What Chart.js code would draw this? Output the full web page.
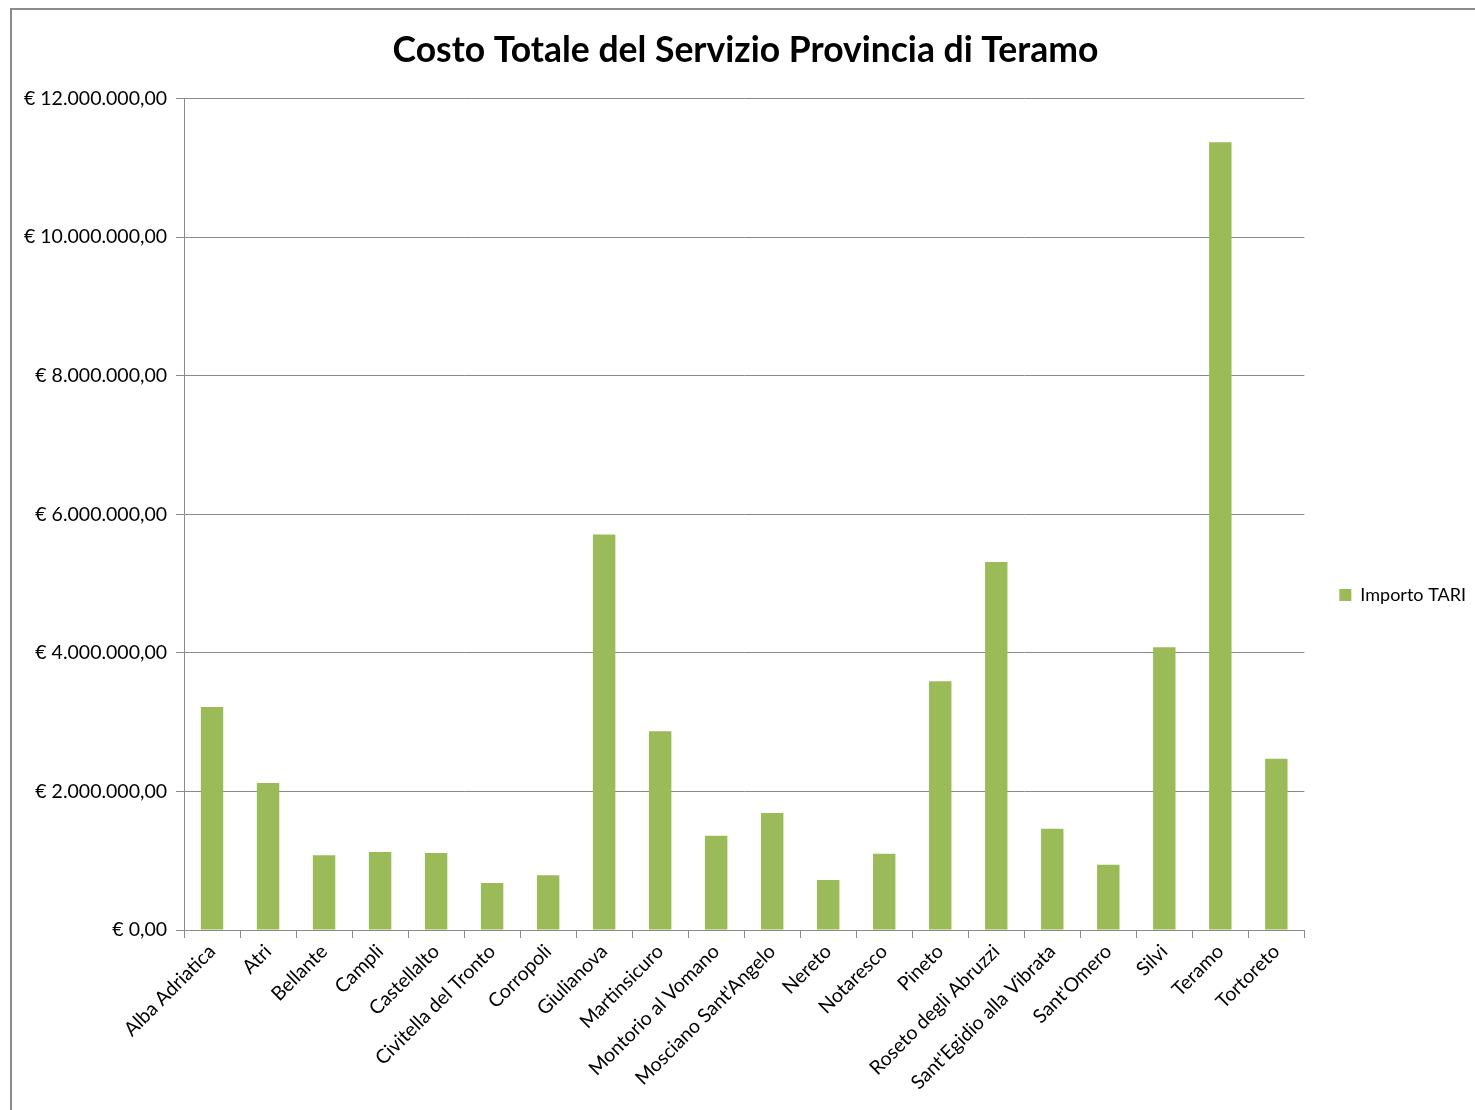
<!DOCTYPE html>
<html>
<head>
<meta charset="utf-8">
<script src="https://cdn.jsdelivr.net/npm/chart.js@4.4.1/dist/chart.umd.min.js"></script>
<style>
  html, body { margin: 0; padding: 0; background: #fff; overflow: hidden; }
  #frame {
    position: absolute; left: 10px; top: 8px;
    width: 1490px; height: 1170px;
    border-left: 2px solid #8c8c8c; border-top: 2px solid #8c8c8c;
  }
  #frame canvas { position: absolute; left: 0; top: 0; }
</style>
</head>
<body>
<div id="frame"><canvas id="chart" width="1464" height="1170"></canvas></div>
<script>
/* ---- Data ---- */
const comuni = [
  'Alba Adriatica', 'Atri', 'Bellante', 'Campli', 'Castellalto',
  'Civitella del Tronto', 'Corropoli', 'Giulianova', 'Martinsicuro',
  'Montorio al Vomano', "Mosciano Sant'Angelo", 'Nereto', 'Notaresco',
  'Pineto', 'Roseto degli Abruzzi', "Sant'Egidio alla Vibrata",
  "Sant'Omero", 'Silvi', 'Teramo', 'Tortoreto',
];
const importoTari = [
  3220000, 2120000, 1080000, 1125000, 1110000,
  680000, 790000, 5710000, 2870000,
  1360000, 1690000, 720000, 1100000,
  3590000, 5310000, 1460000,
  940000, 4080000, 11370000, 2470000,
];
const seriesLabel = 'Importo TARI';
const chartTitle = 'Costo Totale del Servizio Provincia di Teramo';

/* ---- Helpers ---- */
function formatEuro(v) {
  const [intPart, dec] = Math.abs(v).toFixed(2).split('.');
  const grouped = intPart.replace(/\B(?=(\d{3})+(?!\d))/g, '.');
  return '€ ' + grouped + ',' + dec;
}

const FONT = 'Lato, "Open Sans", sans-serif';
const GREEN = '#9bbb59';
const GRID = '#8a8a8a';

new Chart(document.getElementById('chart'), {
  type: 'bar',
  data: {
    labels: comuni,
    datasets: [{
      label: seriesLabel,
      data: importoTari,
      backgroundColor: GREEN,
      borderWidth: 0,
      barPercentage: 0.4,
      categoryPercentage: 1,
    }],
  },
  options: {
    responsive: false,
    animation: false,
    layout: { padding: { left: 3, right: 0, top: 0, bottom: 0 } },
    plugins: {
      title: {
        display: true,
        text: chartTitle,
        color: '#000',
        font: { family: FONT, size: 35.5, weight: 'bold' },
        padding: { top: 19, bottom: 27 },
      },
      legend: {
        position: 'right',
        labels: {
          color: '#000',
          font: { family: FONT, size: 18 },
          boxWidth: 12,
          boxHeight: 12,
          padding: 35,
        },
      },
      tooltip: { enabled: false },
    },
    scales: {
      x: {
        offset: true,
        grid: {
          display: true,
          offset: true,
          drawOnChartArea: false,
          color: GRID,
          tickLength: 8,
        },
        border: { color: GRID, width: 1 },
        ticks: {
          color: '#000',
          font: { family: FONT, size: 19.5 },
          maxRotation: 45,
          minRotation: 45,
          autoSkip: false,
          padding: 2,
        },
        // empty band below the labels as in the original frame;
        // the y axis labels already leave room for the first rotated label
        afterFit: (scale) => {
          scale.height = 250;
          scale.paddingLeft = 0;
        },
      },
      y: {
        min: 0,
        max: 12000000,
        grid: { color: GRID, tickLength: 8 },
        border: { color: GRID, width: 1 },
        ticks: {
          stepSize: 2000000,
          color: '#000',
          font: { family: FONT, size: 19.5 },
          padding: 9,
          callback: (v) => formatEuro(v),
        },
      },
    },
  },
});
</script>
</body>
</html>
